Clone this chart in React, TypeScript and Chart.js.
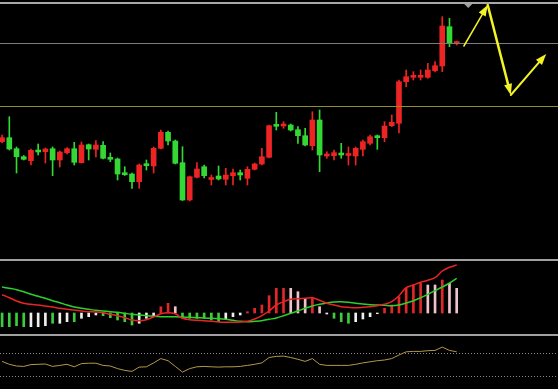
import React, { useEffect, useRef } from "react";
import { Chart, registerables } from "chart.js";
Chart.register(...registerables);

// ---- data (price units, arbitrary) ----
const opens = [117.3,121.3,110.3,102.3,98.3,108.7,107.3,110.3,99,106.3,110.3,96.3,114.3,109.7,113.7,101.7,100,85.7,85,77.3,94.7,93,110.7,126.7,118,96.3,59,81.7,92.3,79.5,83,79.7,83.3,86.3,80.7,89.7,95,101.7,134,133,134,129.3,123.3,113.3,139,103,103.3,105.7,103.5,103,109.7,115.7,123,121.3,133.3,135.7,177.3,181.7,181.7,181.7,188.3,193,232.3,215.5];
const highs = [124,142.3,112,103.5,110,115,111,112,108,111.5,116.7,117,115,118.3,117.3,106,101,92.3,86,95,99,112,129,128,119,112.3,83,96.3,94,84,93,90.7,90,89,92.3,96,110.7,134,146.7,137.3,135,132.3,130.7,147.3,149,107.3,109,115.7,112,112,119,124,124,137.3,144,179,189,187.3,189,195.7,197.3,242.3,240.7,218];
const lows = [116,109,86,99,94,104,96,83.3,92,105,94,96,99,102,100,97.3,79,83.5,70.7,70.7,89,86,110,114,95,58.5,58,81,81,74,79,74,74,79,74,89,94,101,129,130.7,128,115.7,113,109,87.3,100.7,99,100.7,94,94,103,114,109.7,117.3,132.3,126,172.3,179,179,180.7,187,187.3,212.3,214];
const closes = [121.3,110,102.3,99.7,108.7,107,110,99,107,110.3,96.7,114,110,114,100.7,99.7,85,84.3,77.3,94,93.3,110.7,126.7,118,95.7,59,82.3,90,83.3,80.5,80,84,86.3,84,89.7,95,102.3,133.3,132.7,135,129,123.3,114,139,104,105,106.3,104,105,110.7,117.3,122.3,121.3,133,136.7,177.3,182.3,183.3,183,189,193.3,233,215.7,216.5];

const macdLine = [18.3,15.3,12,9.7,8.7,8,7,6,4.7,3.7,3,2,1.3,1,0.3,-1.3,-2.7,-4.7,-7,-7.7,-6.7,-4,-0.7,0.3,-0.7,-5.3,-6.7,-7.3,-7.7,-8.3,-9,-9.3,-9.3,-9,-8.3,-6,-2.7,2,8,11.3,13.7,14.3,14.7,15.3,12.7,9.7,8,6.3,5.7,5.3,5.7,6.3,7.3,8.7,11.3,17.3,25.3,28,30.7,32.7,35.3,42,45.7,48];
const signalLine = [26,24.7,23.3,21.3,18.7,16.7,14.7,12.3,10.3,8,6,4.7,3.7,2.7,2,1.3,0.7,-0.3,-1.3,-2,-2.7,-3.3,-3.7,-3.7,-3.7,-4,-4.3,-4.7,-5,-5.3,-5.7,-6.3,-7.3,-8.3,-8.7,-8.3,-7.7,-6.3,-5,-2.7,-0.3,2,4.7,7,8.7,10,11,11.3,10.7,9.7,9,8.3,8,7.7,7.3,8,10,12.3,15.3,18.7,22.3,26,30,34.7];
const histValues = [-13.7,-13.7,-12.7,-13.7,-13.7,-13.7,-12.7,-10.3,-10.3,-8.7,-8.7,-5.3,-3.7,-2,-2.7,-4.7,-7,-8.7,-12,-10.3,-5.3,-2.7,6.3,9.7,6.3,-5.3,-5.3,-5.3,-5.3,-7,-8.7,-6,-3.7,-2,1.3,4.7,8,17.3,24.7,24.7,24.7,21.3,14.7,14.7,6.3,-1,-5.3,-8.7,-10.3,-8.7,-6,-3.7,-0.7,4.7,8,16.3,24.7,28,29.7,28,28,33,29.7,24.7];
const histKinds = "GGGGWWWGWWGWWWGGGGGWWWRRPGGGGGGWWWRRRRRRPPPRPWGGGWWWWRRRRRRPPRPP".split("");

const oscValues = [27.6,24.7,23,22.6,24.4,24.7,25,22.6,23.6,24.7,22.2,25.4,25.8,25.8,23.6,23,20.4,18.6,17.6,21.9,22.2,26.1,30.4,28.3,22.6,16.9,20.4,22.2,22.6,22.2,21.9,22.2,22.2,22.6,23.6,24.7,26.1,31.5,32.6,32.9,31.5,29.7,27.6,30.4,24.7,23.6,23.6,23.6,23.6,24.7,26.1,27.2,28.3,29,30.4,34,37.2,37.6,37.6,38.3,38.6,41.9,38.6,37.2];
const oscLevels = [36, 13.5];

const grayLevel = 216.3;
const oliveLevel = 152.5;
const arrowIdx = [64.0, 67.3, 70.5, 75.4];
const arrowVal = [213, 254, 164, 205];
const arrowWidths = [1.5, 2.5, 2];
const markerIdx = 64.6;
const markerVal = 255;

const X_MIN = -0.29;
const X_MAX = 77.04;
const idx = opens.map((_, i) => i);

const RED = "#ec2424";
const GREEN = "#34d834";
const KIND_COLORS: Record<string, string> = { G: "#3ccc3c", W: "#eeeeee", R: "#e02828", P: "#efc3cc" };

const baseOpts = (ymin: number, ymax: number, plugins: any[] = []) => ({
  animation: false as const,
  responsive: false,
  maintainAspectRatio: false,
  layout: { padding: 0 },
  events: [],
  plugins: { legend: { display: false }, tooltip: { enabled: false } },
  scales: {
    x: { type: "linear" as const, min: X_MIN, max: X_MAX, display: false, offset: false },
    y: { min: ymin, max: ymax, display: false },
  },
});

function drawArrow(ctx: CanvasRenderingContext2D, x1: number, y1: number, x2: number, y2: number, w: number) {
  const a = Math.atan2(y2 - y1, x2 - x1);
  const head = 11, half = 4;
  const bx = x2 - head * Math.cos(a), by = y2 - head * Math.sin(a);
  ctx.lineWidth = w;
  ctx.beginPath();
  ctx.moveTo(x1, y1);
  ctx.lineTo(bx, by);
  ctx.stroke();
  ctx.beginPath();
  ctx.moveTo(x2, y2);
  ctx.lineTo(bx + half * Math.sin(a), by - half * Math.cos(a));
  ctx.lineTo(bx - half * Math.sin(a), by + half * Math.cos(a));
  ctx.closePath();
  ctx.fill();
}

const mainPlugin = {
  id: "mainDecor",
  afterDatasetsDraw(chart: any) {
    const { ctx, chartArea, scales } = chart;
    const xs = scales.x, ys = scales.y;
    ctx.save();
    const hline = (v: number, color: string) => {
      const y = Math.round(ys.getPixelForValue(v)) + 0.5;
      ctx.strokeStyle = color;
      ctx.lineWidth = 1;
      ctx.beginPath();
      ctx.moveTo(chartArea.left, y);
      ctx.lineTo(chartArea.right, y);
      ctx.stroke();
    };
    hline(grayLevel, "#7c7c7c");
    hline(oliveLevel, "#8f8f2a");
    ctx.strokeStyle = "#f2f224";
    ctx.fillStyle = "#f2f224";
    ctx.lineCap = "round";
    for (let i = 0; i < arrowIdx.length - 1; i++) {
      drawArrow(
        ctx,
        xs.getPixelForValue(arrowIdx[i]), ys.getPixelForValue(arrowVal[i]),
        xs.getPixelForValue(arrowIdx[i + 1]), ys.getPixelForValue(arrowVal[i + 1]),
        arrowWidths[i]
      );
    }
    const mx = xs.getPixelForValue(markerIdx), my = ys.getPixelForValue(markerVal);
    ctx.fillStyle = "#a0a0a0";
    ctx.beginPath();
    ctx.moveTo(mx - 4, my);
    ctx.lineTo(mx + 4, my);
    ctx.lineTo(mx, my + 4);
    ctx.closePath();
    ctx.fill();
    ctx.restore();
  },
};

const oscPlugin = {
  id: "oscLevels",
  beforeDatasetsDraw(chart: any) {
    const { ctx, chartArea, scales } = chart;
    ctx.save();
    ctx.strokeStyle = "#8a8a8a";
    ctx.lineWidth = 1;
    ctx.setLineDash([1, 2]);
    for (const v of oscLevels) {
      const y = Math.round(scales.y.getPixelForValue(v)) + 0.5;
      ctx.beginPath();
      ctx.moveTo(chartArea.left, y);
      ctx.lineTo(chartArea.right, y);
      ctx.stroke();
    }
    ctx.restore();
  },
};

export default function App() {
  const mainRef = useRef<HTMLCanvasElement>(null);
  const macdRef = useRef<HTMLCanvasElement>(null);
  const oscRef = useRef<HTMLCanvasElement>(null);

  useEffect(() => {
    const candleColors = idx.map((i) => (closes[i] >= opens[i] ? RED : GREEN));
    const main = new Chart(mainRef.current!, {
      type: "bar",
      data: {
        datasets: [
          {
            data: idx.map((i) => ({ x: i, y: [opens[i], closes[i]] })) as any,
            backgroundColor: candleColors,
            barThickness: 5,
            grouped: false,
            borderWidth: 0,
            minBarLength: 2,
          } as any,
          {
            data: idx.map((i) => ({ x: i, y: [lows[i], highs[i]] })) as any,
            backgroundColor: candleColors,
            barThickness: 1,
            grouped: false,
            borderWidth: 0,
          } as any,
        ],
      },
      options: baseOpts(0, 259) as any,
      plugins: [mainPlugin],
    });

    const macd = new Chart(macdRef.current!, {
      type: "bar",
      data: {
        datasets: [
          {
            type: "line",
            data: idx.map((i) => ({ x: i, y: macdLine[i] })),
            borderColor: "#e82424",
            borderWidth: 1.5,
            pointRadius: 0,
            tension: 0.3,
          } as any,
          {
            type: "line",
            data: idx.map((i) => ({ x: i, y: signalLine[i] })),
            borderColor: "#2ed02e",
            borderWidth: 1.5,
            pointRadius: 0,
            tension: 0.3,
          } as any,
          {
            type: "bar",
            data: idx.map((i) => ({ x: i, y: histValues[i] })),
            backgroundColor: histKinds.map((k) => KIND_COLORS[k]),
            barThickness: 2,
            grouped: false,
            borderWidth: 0,
          } as any,
        ],
      },
      options: baseOpts(-21, 52) as any,
    });

    const osc = new Chart(oscRef.current!, {
      type: "line",
      data: {
        datasets: [
          {
            data: idx.map((i) => ({ x: i, y: oscValues[i] })),
            borderColor: "#b29a48",
            borderWidth: 1,
            pointRadius: 0,
            tension: 0,
          },
        ],
      },
      options: baseOpts(0, 53) as any,
      plugins: [oscPlugin],
    });

    return () => {
      main.destroy();
      macd.destroy();
      osc.destroy();
    };
  }, []);

  const abs = (top: number, h: number, extra: any = {}) => ({
    position: "absolute" as const, left: 0, top, width: 558, height: h, ...extra,
  });

  return (
    <div style={{ position: "fixed", left: 0, top: 0, width: 558, height: 389, background: "#000", overflow: "hidden" }}>
      <canvas ref={mainRef} width={558} height={259} style={abs(0, 259, { display: "block" })} />
      <canvas ref={macdRef} width={558} height={73} style={abs(261, 73, { display: "block" })} />
      <canvas ref={oscRef} width={558} height={53} style={abs(336, 53, { display: "block" })} />
      <div style={abs(2, 2, { background: "#a8a8a8" })} />
      <div style={abs(259, 2, { background: "#a0a0a0" })} />
      <div style={abs(334, 2, { background: "#a0a0a0" })} />
    </div>
  );
}
